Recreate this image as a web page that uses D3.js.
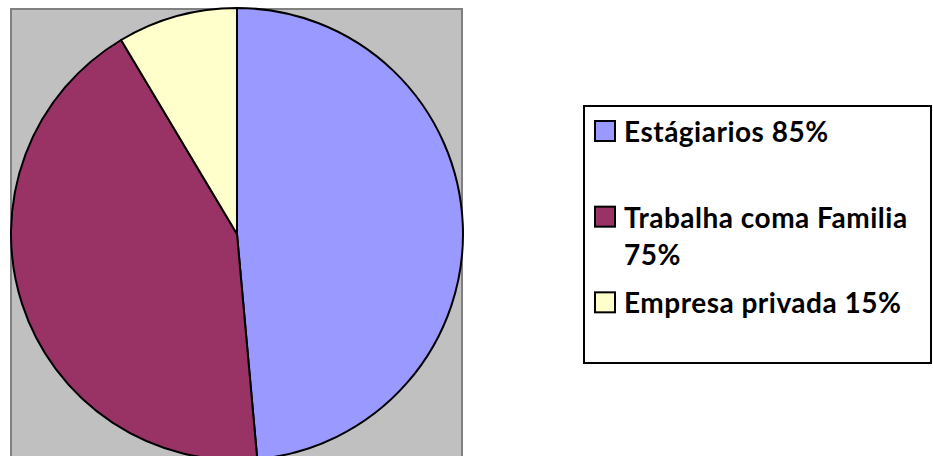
<!DOCTYPE html>
<html>
<head>
<meta charset="utf-8">
<script src="https://cdn.jsdelivr.net/npm/d3@7"></script>
<style>
  body { margin: 0; background: #fff; }
  svg { display: block; }
</style>
</head>
<body>
<div id="res"></div>
<script>
/* chart data */
var categories = ["Estágiarios", "Trabalha coma Familia", "Empresa privada"];
var values = [85, 75, 15];
var colors = ["#9999ff", "#993366", "#ffffcc"];

/* size of the graphic and style parameters */
var width = 933;
var height = 456;
var cx = 237, cy = 234, radius = 226;
var labelSize = 28;

var svg = d3.select("#res")
  .append("svg")
    .attr("width", width)
    .attr("height", height);

/* gray plot area */
svg.append("rect")
  .attr("x", 11)
  .attr("y", 9)
  .attr("width", 451)
  .attr("height", 460)
  .style("fill", "#c0c0c0")
  .style("stroke", "#808080")
  .attr("stroke-width", 2);

/* pie slices, clockwise from 12 o'clock */
var pie = d3.pie().sort(null).value(function(d) { return d; });
var arc = d3.arc().innerRadius(0).outerRadius(radius);

svg.append("g")
  .attr("transform", "translate(" + cx + "," + cy + ")")
  .selectAll("path")
  .data(pie(values))
  .enter().append("path")
    .attr("d", arc)
    .style("fill", function(d, i) { return colors[i]; })
    .style("stroke", "black")
    .attr("stroke-width", 2)
    .attr("stroke-linejoin", "round");

/* legend box */
var box = { x: 584, y: 106, w: 347, h: 257 };
svg.append("rect")
  .attr("x", box.x)
  .attr("y", box.y)
  .attr("width", box.w)
  .attr("height", box.h)
  .style("fill", "white")
  .style("stroke", "black")
  .attr("stroke-width", 2);

/* equal slots for the entries, text top aligned in each */
var slots = d3.scaleBand()
  .domain(d3.range(categories.length))
  .range([box.y, box.y + box.h]);

var textX = 624;
var maxTextWidth = 932 - textX - 4;
var lineStep = 37;

categories.forEach(function(name, i) {
  var top = slots(i);

  svg.append("rect")
    .attr("x", 595)
    .attr("y", top + 15)
    .attr("width", 20)
    .attr("height", 20)
    .style("fill", colors[i])
    .style("stroke", "black")
    .attr("stroke-width", 2);

  /* simple word wrap of the label */
  var words = (name + " " + values[i] + "%").split(" ");
  var text = svg.append("text")
    .attr("x", textX)
    .attr("y", top + 36)
    .style("font-family", "Lato, 'Open Sans', sans-serif")
    .style("font-weight", "bold")
    .style("font-size", labelSize + "px")
    .style("letter-spacing", "0.5px")
    .style("fill", "black");

  var line = [];
  var lineNo = 0;
  var tspan = text.append("tspan").attr("x", textX).attr("y", top + 36);
  words.forEach(function(w) {
    line.push(w);
    tspan.text(line.join(" "));
    if (tspan.node().getComputedTextLength() > maxTextWidth && line.length > 1) {
      line.pop();
      tspan.text(line.join(" "));
      line = [w];
      lineNo++;
      tspan = text.append("tspan")
        .attr("x", textX)
        .attr("y", top + 36 + lineNo * lineStep)
        .text(w);
    }
  });
});
</script>
</body>
</html>
